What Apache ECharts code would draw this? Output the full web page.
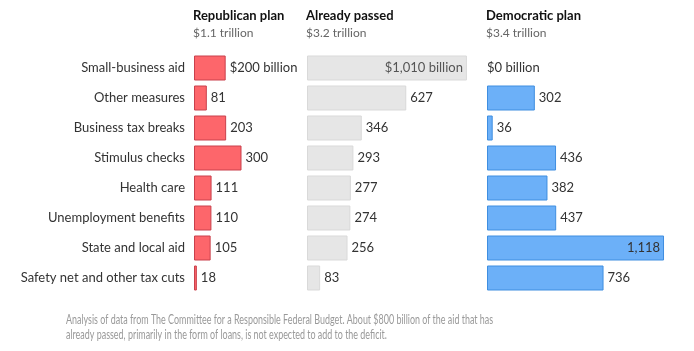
<!DOCTYPE html>
<html>
<head>
<meta charset="utf-8">
<script src="https://cdn.jsdelivr.net/npm/echarts@6/dist/echarts.min.js"></script>
<style>
  html, body { margin: 0; padding: 0; background: #fff; }
  #chart { width: 694px; height: 351px; }
</style>
</head>
<body>
<div id="chart"></div>
<script>
// data, in billions of dollars
const categories = ['Small-business aid', 'Other measures', 'Business tax breaks', 'Stimulus checks',
  'Health care', 'Unemployment benefits', 'State and local aid', 'Safety net and other tax cuts'];
const republican = [200, 81, 203, 300, 111, 110, 105, 18];
const passed = [1010, 627, 346, 293, 277, 274, 256, 83];
const democratic = [0, 302, 36, 436, 382, 437, 1118, 736];

const panelNames = ['Republican plan', 'Already passed', 'Democratic plan'];
const panelTotals = ['$1.1 trillion', '$3.2 trillion', '$3.4 trillion'];
const note = 'Analysis of data from The Committee for a Responsible Federal Budget. About $800 billion of the aid that has\nalready passed, primarily in the form of loans, is not expected to add to the deficit.';

const font = 'Lato, "Liberation Sans", sans-serif';
const lefts = [194, 307, 487];
const maxVal = 1200;
const width = 190; // same px per billion in every panel

const fmt = v => v.toLocaleString('en-US');
const labelFmt = p => p.dataIndex === 0 ? '$' + fmt(p.value) + ' billion' : fmt(p.value);

let chart = echarts.init(document.getElementById('chart'));

const grids = lefts.map(l => ({ left: l, top: 53, width: width, height: 240 }));

const xAxes = lefts.map((l, i) => ({
  type: 'value', gridIndex: i, min: 0, max: maxVal, show: false
}));

const yAxes = lefts.map((l, i) => ({
  type: 'category', gridIndex: i, data: categories, inverse: true,
  axisLine: { show: false }, axisTick: { show: false }, splitLine: { show: false },
  axisLabel: {
    show: i === 0, margin: 9, color: '#333', fontSize: 13, fontFamily: font
  }
}));

const makeData = (arr, insideIdx) => arr.map((v, i) => {
  if (i === insideIdx) {
    return { value: v, label: { position: 'insideRight', distance: 4 } };
  }
  if (v === 0) {
    return { value: v, itemStyle: { borderWidth: 0 }, label: { distance: 0 } };
  }
  return v;
});

const styles = [
  { color: '#fd666b', borderColor: '#c9404c' },
  { color: '#e6e6e6', borderColor: '#d9d9d9' },
  { color: '#6cb0f8', borderColor: '#3f8ee0' }
];

const series = [republican, passed, democratic].map((arr, i) => ({
  type: 'bar',
  xAxisIndex: i,
  yAxisIndex: i,
  barWidth: 25,
  data: makeData(arr, i === 1 ? 0 : (i === 2 ? 6 : -1)),
  itemStyle: { color: styles[i].color, borderColor: styles[i].borderColor, borderWidth: 1 },
  label: {
    show: true, position: 'right', distance: 4, formatter: labelFmt,
    color: '#333', fontSize: 13, fontFamily: font
  },
  silent: true,
  animation: false
}));

// inside label of the passed panel is grey
series[1].data[0].label.color = '#555';

const titles = lefts.map((l, i) => ({
  text: panelNames[i],
  subtext: panelTotals[i],
  left: l - 1,
  top: 9,
  padding: 0,
  itemGap: 5,
  textStyle: { fontSize: 13, fontWeight: 'bold', color: '#111', fontFamily: font },
  subtextStyle: { fontSize: 12, color: '#666', fontFamily: font }
}));

var option = {
  animation: false,
  title: titles,
  grid: grids,
  xAxis: xAxes,
  yAxis: yAxes,
  series: series,
  // source note, squeezed horizontally to look like the condensed original
  graphic: [{
    type: 'text',
    x: 66,
    y: 312,
    scaleX: 0.715,
    silent: true,
    style: {
      text: note,
      fill: '#999',
      font: '12.5px Lato, sans-serif',
      lineHeight: 15
    }
  }]
};

chart.setOption(option);
</script>
</body>
</html>
